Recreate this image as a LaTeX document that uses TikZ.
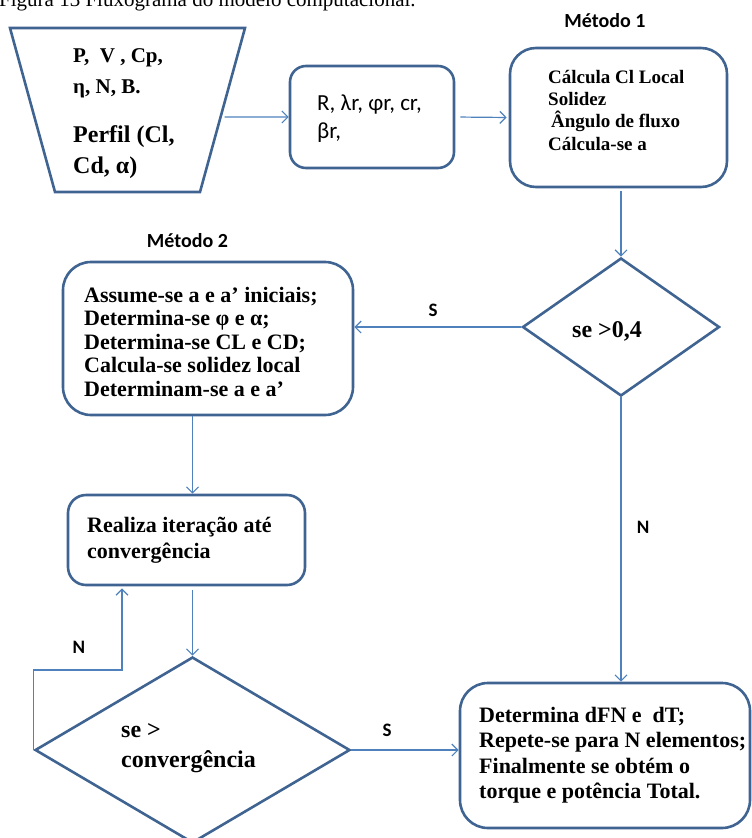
\documentclass[tikz,border=0pt]{standalone}
\usepackage{fontspec}
\setmainfont{Liberation Serif}
\newfontfamily\calfont{Carlito}
\usetikzlibrary{arrows.meta,shapes.geometric,calc}
\definecolor{bcol}{RGB}{64,100,146}
\definecolor{acol}{RGB}{79,129,189}
\begin{document}
\begin{tikzpicture}[x=1pt,y=-1pt,
  shp/.style={draw=bcol,line width=2.6pt},
  rbox/.style={shp,rounded corners=#1,inner sep=0pt},
  arr/.style={draw=acol,line width=1.2pt,-{Straight Barb[length=6pt,width=12pt]}},
  tx/.style={anchor=base west,inner sep=0pt,font=\bfseries\fontsize{22}{26}\selectfont},
  tsm/.style={anchor=base west,inner sep=0pt,font=\bfseries\fontsize{19}{21}\selectfont},
  tmid/.style={anchor=base west,inner sep=0pt,font=\bfseries\fontsize{21}{23}\selectfont},
  tbig/.style={anchor=base west,inner sep=0pt,font=\bfseries\fontsize{24}{27}\selectfont},
  lab/.style={inner sep=0pt,font=\calfont\bfseries\fontsize{19}{22}\selectfont},
  ttl/.style={inner sep=0pt,anchor=base,font=\calfont\bfseries\fontsize{20}{22}\selectfont},
  tsans/.style={anchor=base west,inner sep=0pt,font=\calfont\fontsize{23}{25}\selectfont},
]
\useasboundingbox (0,0) rectangle (752,838);

% caption (cut off at the top, as in the reference)
\node[anchor=base west,inner sep=0pt,font=\fontsize{21}{24}\selectfont] (t0) at (-1,6) {Figura 13 Fluxograma do modelo computacional.};

% shapes
\draw[shp,line join=miter] (10,28) coordinate (trA) -- (245,28) coordinate (trB)
   -- (200,192) coordinate (trC) -- (55,192) coordinate (trD) -- cycle;
\coordinate (tre) at ($(trB)!0.5427!(trC)$);
\node[rbox=16pt,minimum width=164pt,minimum height=102pt] (b2) at (372,117) {};
\node[rbox=26pt,minimum width=217pt,minimum height=139pt] (b3) at (618.5,117.5) {};
\node[diamond,shp,minimum width=197pt,minimum height=138pt,inner sep=0pt] (d1) at (621,327) {};
\node[rbox=28pt,minimum width=290pt,minimum height=153pt] (b4) at (208,338.5) {};
\node[rbox=18pt,minimum width=237pt,minimum height=90pt] (b5) at (186.5,540) {};
\node[diamond,shp,minimum width=315pt,minimum height=186pt,inner sep=0pt] (d2) at (192.5,750) {};
\node[rbox=28pt,minimum width=290pt,minimum height=145pt] (b6) at (605,755.5) {};

% titles
\node[ttl] (m1) at (605,27) {Método 1};
\node[ttl] (m2) at (187.5,247) {Método 2};

% texts
\node[tmid] (ta1) at (73,62) {P,~ V , Cp,};
\node[tmid] (ta2) at (73,93) {η, N, B.};
\node[tbig] (ta3) at (73,142) {Perfil (Cl,};
\node[tbig] (ta4) at (73,173) {Cd, α)};

\node[tsans] (tb1) at (317,110) {R, λr, φr, cr,};
\node[tsans] (tb2) at (317,138) {βr,};

\node[tsm] (tc1) at (548,83) {Cálcula Cl Local};
\node[tsm] (tc2) at (548,105) {Solidez};
\node[tsm] (tc3) at (551,127) {Ângulo de fluxo};
\node[tsm] (tc4) at (548,150) {Cálcula-se a};

\node[tbig] (tf1) at (572,337) {se >0,4};

\node[tx] (td1) at (84,302) {Assume-se a e a’ iniciais;};
\node[tx] (td2) at (84,325.5) {Determina-se φ e α;};
\node[tx] (td3) at (84,349) {Determina-se CL e CD;};
\node[tx] (td4) at (84,372.5) {Calcula-se solidez local};
\node[tx] (td5) at (84,396) {Determinam-se a e a’};

\node[tx] (te1) at (87,532) {Realiza iteração até};
\node[tx] (te2) at (87,558) {convergência};

\node[tbig] (tg1) at (121,737) {se >};
\node[tbig] (tg2) at (121,767) {convergência};

\node[tx] (th1) at (479,722) {Determina dFN e~ dT;};
\node[tx] (th2) at (479,747.5) {Repete-se para N elementos;};
\node[tx] (th3) at (479,773) {Finalmente se obtém o};
\node[tx] (th4) at (479,798.5) {torque e potência Total.};

% connector labels
\node[lab] (lS1) at (433,310) {S};
\node[lab] (lN1) at (643,527) {N};
\node[lab] (lN2) at (79,647) {N};
\node[lab] (lS2) at (387,730) {S};

% connectors
\coordinate (lp) at (122,670);
\draw[arr,shorten <=4pt] (tre) -- (b2.west);
\draw[arr,shorten <=5pt,shorten >=2pt] (b2.east) -- (b3.west);
\draw[arr,shorten <=3pt] (d1.north |- b3.south) -- (d1.north);
\draw[arr] (d1.west) -- (b4.east |- d1.west);
\draw[arr] (b4.south -| d2.north) -- (b5.north -| d2.north);
\draw[arr,shorten <=4pt] (b5.south -| d2.north) -- (d2.north);
\draw[arr,shorten >=2pt] (d2.west) |- (lp) -- (lp |- b5.south);
\draw[arr] (d2.east) -- (b6.west |- d2.east);
\draw[arr] (d1.south) -- (b6.north -| d1.south);
\end{tikzpicture}
\end{document}
